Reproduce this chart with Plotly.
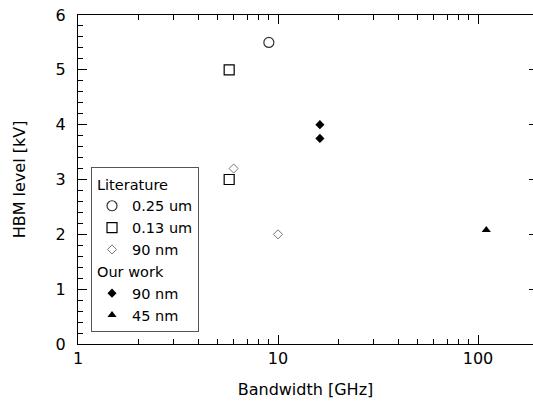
import plotly.graph_objects as go

# HBM ESD robustness vs. bandwidth
lit_025_bw = [9.0]
lit_025_hbm = [5.5]
lit_013_bw = [5.7, 5.7]
lit_013_hbm = [5.0, 3.0]
lit_90_bw = [6.0, 10.0]
lit_90_hbm = [3.2, 2.0]
our_90_bw = [16.2, 16.2]
our_90_hbm = [4.0, 3.75]
our_45_bw = [110.0]
our_45_hbm = [2.08]

FONT = "DejaVu Sans, sans-serif"
LEG_SIZE = 14.5

fig = go.Figure()

fig.add_trace(go.Scatter(
    x=lit_025_bw, y=lit_025_hbm, mode="markers", name="0.25 um",
    legendgroup="lit", legendgrouptitle=dict(text="Literature", font=dict(size=LEG_SIZE, color="black")),
    marker=dict(symbol="circle-open", size=10, color="#333333", line=dict(width=1.2)),
))
fig.add_trace(go.Scatter(
    x=lit_013_bw, y=lit_013_hbm, mode="markers", name="0.13 um",
    legendgroup="lit",
    marker=dict(symbol="square-open", size=10, color="black", line=dict(width=1.2)),
))
fig.add_trace(go.Scatter(
    x=lit_90_bw, y=lit_90_hbm, mode="markers", name="90 nm",
    legendgroup="lit",
    marker=dict(symbol="diamond-open", size=7, color="#777777", line=dict(width=1)),
))
fig.add_trace(go.Scatter(
    x=our_90_bw, y=our_90_hbm, mode="markers", name="90 nm",
    legendgroup="our", legendgrouptitle=dict(text="Our work", font=dict(size=LEG_SIZE, color="black")),
    marker=dict(symbol="diamond", size=7, color="black"),
))
fig.add_trace(go.Scatter(
    x=our_45_bw, y=our_45_hbm, mode="markers", name="45 nm",
    legendgroup="our",
    marker=dict(symbol="triangle-up", size=8, color="black"),
))

# right-hand tick marks only (no spine)
fig.add_trace(go.Scatter(x=[None], y=[None], yaxis="y2", showlegend=False, hoverinfo="skip"))

fig.update_layout(
    width=533, height=405,
    margin=dict(l=78, r=0, t=15, b=61),
    paper_bgcolor="white", plot_bgcolor="white",
    font=dict(family=FONT, size=16, color="black"),
    showlegend=True,
    legend=dict(
        x=0.0286, y=0.0365, xanchor="left", yanchor="bottom",
        bordercolor="#555555", borderwidth=1, bgcolor="white",
        font=dict(size=LEG_SIZE), tracegroupgap=0, traceorder="grouped",
        itemsizing="trace", entrywidth=72, entrywidthmode="pixels",
    ),
    xaxis=dict(
        type="log", range=[0, 2.275], dtick=1, exponentformat="none",
        showline=True, linecolor="black", linewidth=1, mirror="ticks",
        ticks="inside", ticklen=9, tickcolor="black", showgrid=False, zeroline=False,
        minor=dict(ticks="inside", ticklen=5, dtick="D1", tickcolor="black", showgrid=False),
        title=dict(text="Bandwidth [GHz]", standoff=16, font=dict(size=16)),
        tickfont=dict(size=16), automargin=False,
    ),
    yaxis=dict(
        range=[0, 6], dtick=1,
        showline=True, linecolor="black", linewidth=1, mirror=False,
        ticks="inside", ticklen=9, tickcolor="black", showgrid=False, zeroline=False,
        minor=dict(ticks="inside", ticklen=5, dtick=0.2, tickcolor="black", showgrid=False),
        title=dict(text="HBM level [kV]", standoff=26, font=dict(size=16)),
        tickfont=dict(size=16), ticklabelstandoff=8, automargin=False,
    ),
    yaxis2=dict(
        overlaying="y", side="right", range=[0, 6], dtick=1,
        showline=False, showgrid=False, zeroline=False, showticklabels=False,
        ticks="inside", ticklen=4, tickcolor="black",
    ),
)

fig.write_html("out.html")
